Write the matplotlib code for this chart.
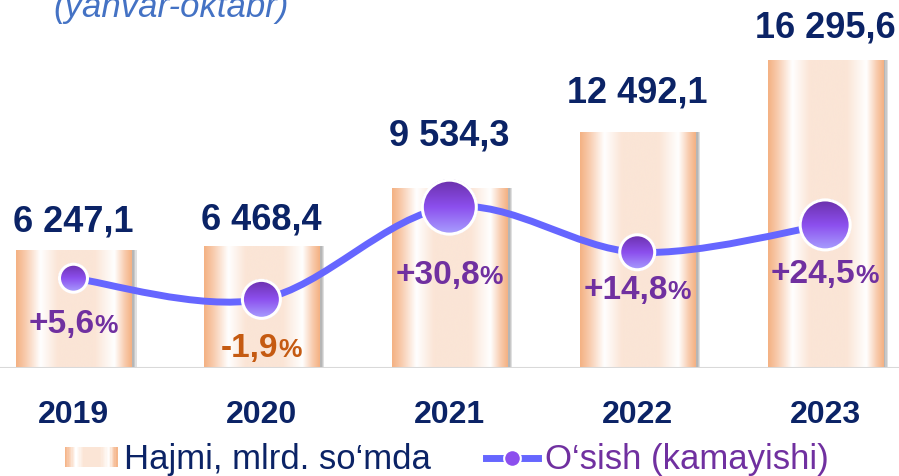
import numpy as np
import matplotlib
matplotlib.use("Agg")
import matplotlib.pyplot as plt
import matplotlib.patheffects as pe
from matplotlib.colors import LinearSegmentedColormap
from matplotlib.patches import Circle, Rectangle, Patch, PathPatch
from matplotlib.path import Path
from matplotlib.lines import Line2D
from matplotlib.legend_handler import HandlerBase
from matplotlib.offsetbox import TextArea, HPacker, AnnotationBbox

plt.rcParams["font.family"] = ["Liberation Sans", "DejaVu Sans"]

# data
Years = ["2019", "2020", "2021", "2022", "2023"]
Volume = [6247.1, 6468.4, 9534.3, 12492.1, 16295.6]
Growth = [5.6, -1.9, 30.8, 14.8, 24.5]
VolumeLabel = "Hajmi, mlrd. so\u2018mda"
GrowthLabel = "O\u2018sish (kamayishi)"
Subtitle = "(yanvar-oktabr)"

# styling (pixels)
MarkerRadius = [15, 20, 28, 18.5, 26]
ValueGap = [18, 16, 42, 29, 23]
PercentDrop = [46, 49, 68, 38, 50]

Navy = "#0B2366"
Purple = "#7030A0"
Orange = "#C55A11"
LineColor = "#6666FF"

barCmap = LinearSegmentedColormap.from_list("bar", [
    (0.0, "#F4B183"), (0.08, "#F8CBAD"), (0.21, "#FFFFFF"), (0.36, "#FBE5D6"),
    (0.68, "#FBE5D6"), (0.85, "#FFFFFF"), (0.94, "#F8CBAD"), (1.0, "#F4B183")])
markerCmap = LinearSegmentedColormap.from_list("marker", ["#6A2FA8", "#8C4FEE", "#A9A3FF"])

W, H = 899, 476
fig = plt.figure(figsize=(W / 100, H / 100), dpi=100)
ax = fig.add_axes([0, 108 / H, 1, 368 / H])
ax2 = ax.twinx()
ov = fig.add_axes([0, 0, 1, 1], zorder=5)
ov.set_xlim(0, W)
ov.set_ylim(0, H)
ov.set_autoscale_on(False)
ov.axis("off")

x = np.arange(len(Years))
ax.set_xlim(-0.391, 4.393)
ax.set_ylim(0, 368 / 0.0189)
ax2.set_ylim(-74 / 2.82, 294 / 2.82)

shadow = [pe.SimplePatchShadow(offset=(k, -0.3), shadow_rgbFace="#7F7F7F", alpha=0.24) for k in (1, 2, 3, 4)]
bars = ax.bar(x, Volume, width=0.612, color="#FBE5D6", zorder=2,
              path_effects=shadow + [pe.Normal()])

gradient = np.linspace(0, 1, 256).reshape(1, -1)
for bar in bars:
    img = ax.imshow(gradient, cmap=barCmap, aspect="auto", interpolation="bicubic",
                    extent=[bar.get_x(), bar.get_x() + bar.get_width(), 0, bar.get_height()],
                    zorder=2.1)
    img.set_clip_path(bar)

ax.axhline(0, color="#D9D9D9", lw=2.2, zorder=3)

for i, v in enumerate(Volume):
    text = f"{v:,.1f}".replace(",", " ").replace(".", ",")
    ax.annotate(text, (i, v), xytext=(0, ValueGap[i] * 0.72), textcoords="offset points",
                ha="center", va="baseline", fontsize=26, fontweight="bold", color=Navy)

ax.set_xticks(x)
ax.set_xticklabels(Years, fontsize=23, fontweight="bold", color=Navy)
ax.tick_params(axis="x", length=0, pad=23)
ax.set_yticks([])
ax2.set_yticks([])
for a in (ax, ax2):
    for s in a.spines.values():
        s.set_visible(False)
ax.set_xlim(-0.391, 4.393)
ax.set_ylim(0, 368 / 0.0189)


def smoothPath(xs, ys, t=1 / 6):
    verts = [(xs[0], ys[0])]
    codes = [Path.MOVETO]
    n = len(xs)
    for i in range(n - 1):
        xa, ya = (xs[i - 1], ys[i - 1]) if i > 0 else (xs[i], ys[i])
        xb, yb = (xs[i + 2], ys[i + 2]) if i + 2 < n else (xs[i + 1], ys[i + 1])
        c1 = (xs[i] + (xs[i + 1] - xa) * t, ys[i] + (ys[i + 1] - ya) * t)
        c2 = (xs[i + 1] - (xb - xs[i]) * t, ys[i + 1] - (yb - ys[i]) * t)
        verts += [c1, c2, (xs[i + 1], ys[i + 1])]
        codes += [Path.CURVE4] * 3
    return Path(verts, codes)


ax2.add_patch(PathPatch(smoothPath(list(x), Growth), fill=False, ec=LineColor, lw=5,
                        capstyle="round", zorder=3))

# gradient markers and percent labels drawn in pixel space
toPix = ov.transData.inverted()
vGrad = np.linspace(0, 1, 256).reshape(-1, 1)
for i, g in enumerate(Growth):
    cx, cy = toPix.transform(ax2.transData.transform((x[i], g)))
    r = MarkerRadius[i]
    img = ov.imshow(vGrad, cmap=markerCmap, aspect="auto", interpolation="bicubic",
                    extent=[cx - r, cx + r, cy - r, cy + r], zorder=6)
    img.set_clip_path(Circle((cx, cy), r, transform=ov.transData))
    ov.add_patch(Circle((cx, cy), r - 1, fill=False, ec="white", lw=2.2, zorder=7))

    color = Purple if g >= 0 else Orange
    main = TextArea(f"{g:+.1f}".replace(".", ","),
                    textprops=dict(fontsize=24, fontweight="bold", color=color))
    pct = TextArea("%", textprops=dict(fontsize=19, fontweight="bold", color=color))
    box = HPacker(children=[main, pct], align="baseline", pad=0, sep=0)
    ov.add_artist(AnnotationBbox(box, (cx, cy - PercentDrop[i]), frameon=False,
                                 box_alignment=(0.5, 0.5), zorder=8))

fig.text(53 / W, 1 - 17 / H, Subtitle, style="italic", color="#4472C4", fontsize=25,
         ha="left", va="baseline")


class GradientHandler(HandlerBase):
    def create_artists(self, legend, orig_handle, xdescent, ydescent, width, height, fontsize, trans):
        n = 40
        parts = []
        for k in range(n):
            parts.append(Rectangle((-xdescent + width * k / n, -ydescent), width / n + 0.4, height,
                                   facecolor=barCmap((k + 0.5) / n), edgecolor="none", transform=trans))
        return parts


barHandle = Patch(facecolor="#FBE5D6")
lineHandle = Line2D([], [], color=LineColor, lw=5, marker="o", markersize=12,
                    markerfacecolor="#8C4FEE", markeredgecolor="white", markeredgewidth=1.5)
leg = fig.legend([barHandle, lineHandle], [VolumeLabel, GrowthLabel],
                 handler_map={Patch: GradientHandler()}, loc="center",
                 bbox_to_anchor=(447 / W, 16 / H), ncol=2, frameon=False,
                 prop={"size": 25}, handlelength=1.5, handleheight=0.5,
                 handletextpad=0.2, columnspacing=1.6, borderpad=0)
leg.get_texts()[0].set_color(Navy)
leg.get_texts()[1].set_color(Purple)

fig.savefig("out.png", dpi=100)
